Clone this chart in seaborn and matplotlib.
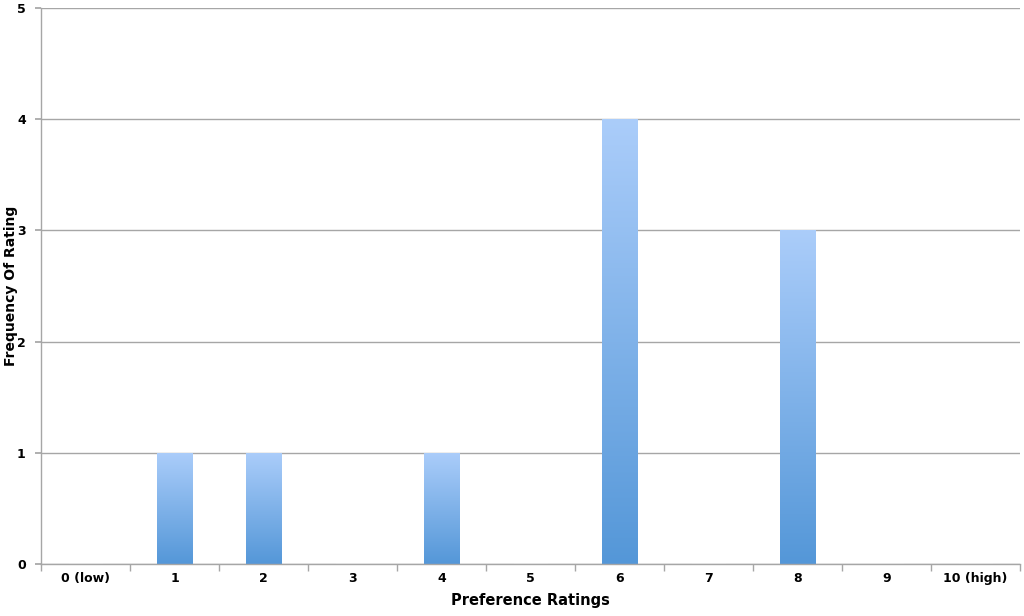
import numpy as np
import pandas as pd
import matplotlib
matplotlib.use("Agg")
import matplotlib.pyplot as plt
import seaborn as sns
from matplotlib.colors import LinearSegmentedColormap

categories = ["0 (low)", "1", "2", "3", "4", "5", "6", "7", "8", "9", "10 (high)"]
frequency = [0, 1, 1, 0, 1, 0, 4, 0, 3, 0, 0]
y_ticks = [0, 1, 2, 3, 4, 5]

sns.set_theme(style="white")
plt.rcParams['font.family'] = ['DejaVu Sans']

df = pd.DataFrame({"Rating": categories, "Frequency": frequency})

fig = plt.figure(figsize=(10.24, 6.16), dpi=100)
ax = fig.add_axes([41/1024, (616-564)/616, (1020-41)/1024, (564-8)/616])

sns.barplot(data=df, x="Rating", y="Frequency", ax=ax, color="#7fb0ea",
            width=0.4, saturation=1, order=categories)

ax.set_ylim(0, 5)
ax.set_xlim(-0.5, len(categories) - 0.5)
ax.set_yticks(y_ticks)
ax.yaxis.grid(True, color="#a6a6a6", linewidth=1)
ax.set_axisbelow(True)

# gradient fill
cmap = LinearSegmentedColormap.from_list("g", ["#5497d8", "#abcdfa"])
grad = np.linspace(0, 1, 256).reshape(-1, 1)
for p in list(ax.patches):
    x0, y0 = p.get_x(), p.get_y()
    w, h = p.get_width(), p.get_height()
    if h <= 0:
        continue
    p.set_facecolor("none")
    p.set_edgecolor("none")
    im = ax.imshow(grad, cmap=cmap, origin="lower", aspect="auto",
                   extent=[x0, x0 + w, y0, y0 + h], zorder=2)
    im.set_clip_path(p)
ax.set_xlim(-0.5, len(categories) - 0.5)
ax.set_ylim(0, 5)

for s in ["top", "right"]:
    ax.spines[s].set_visible(False)
for s in ["left", "bottom"]:
    ax.spines[s].set_color("#a6a6a6")
    ax.spines[s].set_linewidth(1)

# x ticks at boundaries
ax.set_xticks(np.arange(-0.5, len(categories), 1), minor=True)
ax.tick_params(axis="x", which="minor", length=5, color="#a6a6a6", direction="out", bottom=True)
ax.tick_params(axis="x", which="major", length=0, pad=6)
ax.tick_params(axis="y", length=4, color="#a6a6a6", direction="out", left=True, pad=7)

for lbl in ax.get_xticklabels() + ax.get_yticklabels():
    lbl.set_fontweight("bold")
    lbl.set_fontsize(9)
    lbl.set_color("black")

ax.set_xlabel("Preference Ratings", fontsize=10.5, fontweight="bold", color="black")
ax.set_ylabel("Frequency Of Rating", fontsize=10, fontweight="bold", color="black")
ax.xaxis.set_label_coords(0.5, -(600 - 564) / 556, transform=ax.transAxes)
ax.yaxis.set_label_coords(-(41 - 11) / 979, 0.5, transform=ax.transAxes)
ax.yaxis.label.set_verticalalignment("center")
ax.xaxis.label.set_verticalalignment("center")

fig.savefig("out.png", dpi=100)
